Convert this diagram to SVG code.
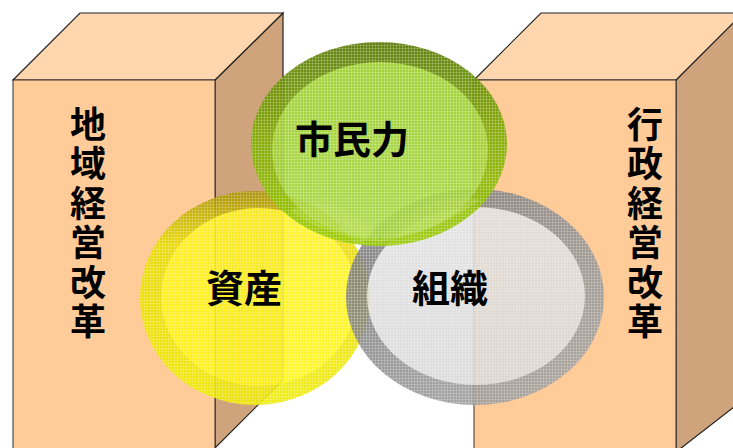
<svg xmlns="http://www.w3.org/2000/svg" width="733" height="448" viewBox="0 0 733 448">
<style>
.front{fill:#FFCC99;stroke:#333;stroke-width:1}
.top{fill:#FFD6AD;stroke:#222;stroke-width:1.2}
.side{fill:#CFA47C;stroke:#222;stroke-width:1.2}
.vt{font-family:"Noto Sans CJK JP","Noto Sans CJK SC",sans-serif;font-weight:bold;font-size:36px;fill:#000;writing-mode:vertical-rl;letter-spacing:3.5px}
.lbl{font-family:"Noto Sans CJK JP","Noto Sans CJK SC",sans-serif;font-weight:bold;font-size:38px;fill:#000;text-anchor:middle}
</style>
<defs>
<pattern id="grid" width="3" height="3" patternUnits="userSpaceOnUse">
<path d="M0 0.5H3M0.5 0V3" stroke="#fff" stroke-width="0.7" stroke-opacity="0.3" fill="none"/>
</pattern>
<linearGradient id="gOut" x1="0" y1="0" x2="0" y2="1">
<stop offset="0" stop-color="#557700"/><stop offset="0.45" stop-color="#7FAA00"/><stop offset="1" stop-color="#99CC00"/>
</linearGradient>
<linearGradient id="gIn" x1="0" y1="0" x2="0" y2="1">
<stop offset="0" stop-color="#9CCF2A"/><stop offset="1" stop-color="#A6D63C"/>
</linearGradient>
<linearGradient id="yOut" x1="0" y1="0" x2="0" y2="1">
<stop offset="0" stop-color="#A89200"/><stop offset="0.25" stop-color="#E8DC00"/><stop offset="1" stop-color="#F0EC00"/>
</linearGradient>
<linearGradient id="yIn" x1="0" y1="0" x2="0" y2="1">
<stop offset="0" stop-color="#FFF21A"/><stop offset="1" stop-color="#FFF70F"/>
</linearGradient>
<linearGradient id="sOut" x1="0" y1="0" x2="1" y2="1">
<stop offset="0" stop-color="#6E6E6E"/><stop offset="0.5" stop-color="#8E8E8E"/><stop offset="1" stop-color="#A6A6A6"/>
</linearGradient>
<linearGradient id="sIn" x1="0" y1="0" x2="0" y2="1">
<stop offset="0" stop-color="#E0E0E0"/><stop offset="1" stop-color="#D8D8D8"/>
</linearGradient>
</defs>

<g id="box-left">
<polygon class="side" points="215,80 283,13 283,380 215,448"/>
<polygon class="top" points="13,80 80,13 283,13 215,80"/>
<rect class="front" x="13" y="80" width="202" height="372"/>
<text class="vt" x="88" y="106">地域経営改革</text>
</g>

<g id="box-right">
<polygon class="side" points="676,80 743,13 743,400 676,452"/>
<polygon class="top" points="474,80 541,13 743,13 676,80"/>
<rect class="front" x="474" y="80" width="202" height="372"/>
<text class="vt" x="645" y="106">行政経営改革</text>
</g>

<g id="connectors"></g>

<g id="node-shisan" opacity="0.9">
<ellipse cx="255" cy="298" rx="115" ry="107" fill="url(#yOut)"/>
<ellipse cx="259" cy="297" rx="98" ry="89" fill="url(#yIn)"/>
<ellipse cx="255" cy="298" rx="115" ry="107" fill="url(#grid)"/>
</g>

<g id="node-soshiki" opacity="0.88">
<ellipse cx="475" cy="297" rx="129" ry="108" fill="url(#sOut)"/>
<ellipse cx="476" cy="296" rx="109" ry="89" fill="url(#sIn)"/>
<ellipse cx="475" cy="297" rx="129" ry="108" fill="url(#grid)"/>
</g>

<g id="node-shiminryoku" opacity="0.92">
<ellipse cx="379" cy="144" rx="128" ry="102" fill="url(#gOut)"/>
<ellipse cx="380" cy="150" rx="108" ry="88" fill="url(#gIn)"/>
<path d="M290,210 Q340,190 380,240 Q420,190 480,200 Q440,230 380,242 Q320,235 290,210Z" fill="#B2DC40" opacity="0.5"/>
<ellipse cx="379" cy="144" rx="128" ry="102" fill="url(#grid)"/>
</g>

<g id="labels">
<text class="lbl" x="352" y="153">市民力</text>
<text class="lbl" x="244" y="302">資産</text>
<text class="lbl" x="450" y="302">組織</text>
</g>
</svg>
